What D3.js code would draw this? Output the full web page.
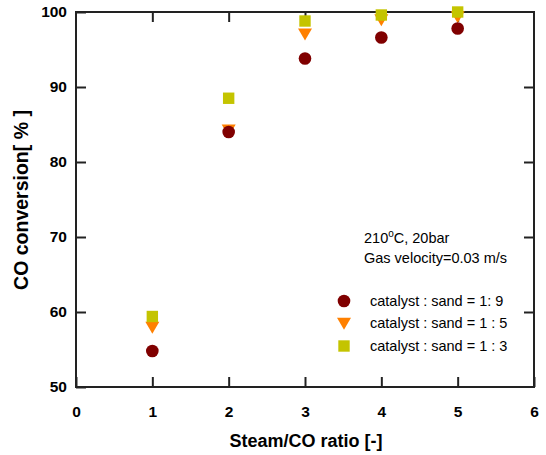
<!DOCTYPE html>
<html>
<head>
<meta charset="utf-8">
<script src="https://cdn.jsdelivr.net/npm/d3@7"></script>
<style>
	body { margin: 0; background: #fff; }
	text { font-family: "Liberation Sans", Arial, sans-serif; fill: #000; }
	.axisLabels { font-size: 15.5px; font-weight: bold; }
	.title { font-size: 18px; font-weight: bold; }
	.note { font-size: 14.5px; }
</style>
</head>
<body>
<div id="chart"></div>
<script>
// values
var ratios = [1, 2, 3, 4, 5];
var conv19 = [54.8, 84.0, 93.8, 96.6, 97.8];
var conv15 = [58.0, 84.3, 97.1, 99.0, 99.4];
var conv13 = [59.4, 88.5, 98.8, 99.6, 100.0];
var xTicks = [0, 1, 2, 3, 4, 5, 6];
var yTicks = [50, 60, 70, 80, 90, 100];
var seriesNames = ["catalyst : sand = 1: 9", "catalyst : sand = 1 : 5", "catalyst : sand = 1 : 3"];

var margin = { top: 12, right: 12, bottom: 68, left: 76 };
var width = 546 - margin.left - margin.right;
var height = 455 - margin.top - margin.bottom;

var x = d3.scaleLinear().domain([0, 6]).range([0, width]);
var y = d3.scaleLinear().domain([50, 100]).range([height, 0]);

var svg = d3.select("#chart").append("svg")
	.attr("width", 546)
	.attr("height", 455)
  .append("g")
	.attr("transform", "translate(" + margin.left + "," + margin.top + ")");

var tickLen = 10;

// frame
svg.append("rect")
	.attr("width", width)
	.attr("height", height)
	.attr("fill", "none")
	.attr("stroke", "#222")
	.attr("stroke-width", 2);

// axes, ticks pointing inward
svg.append("g")
	.attr("class", "xaxis")
	.attr("transform", "translate(0," + height + ")")
	.call(d3.axisBottom(x).tickValues(xTicks).tickSize(-tickLen).tickPadding(19).tickFormat(d3.format("d")));

svg.append("g")
	.attr("class", "xaxis2")
	.call(d3.axisTop(x).tickValues(xTicks.slice(1, 6)).tickSize(-tickLen).tickFormat(""));

svg.append("g")
	.attr("class", "yaxis")
	.call(d3.axisLeft(y).tickValues(yTicks).tickSize(-tickLen).tickPadding(9).tickFormat(d3.format("d")));

svg.append("g")
	.attr("class", "yaxis2")
	.attr("transform", "translate(" + width + ",0)")
	.call(d3.axisRight(y).tickValues(yTicks.slice(1, 5)).tickSize(-tickLen).tickFormat(""));

svg.selectAll(".domain").remove();
svg.selectAll(".tick line").attr("stroke", "#222").attr("stroke-width", 2);
svg.selectAll(".xaxis text, .yaxis text")
	.attr("class", "axisLabels")
	.style("font-family", "Liberation Sans, Arial, sans-serif");

// data points
var sym19 = d3.symbol().type(d3.symbolCircle).size(125);
var sym13 = d3.symbol().type(d3.symbolSquare).size(130);
var tri = function(s) {
	return "M" + (-s) + "," + (-s * 0.75) + "L" + s + "," + (-s * 0.75) + "L0," + (s * 0.95) + "Z";
};

svg.selectAll(".p15")
	.data(ratios)
	.enter().append("path")
	.attr("transform", function(d, i) { return "translate(" + x(d) + "," + y(conv15[i]) + ")"; })
	.attr("d", tri(7))
	.attr("fill", "#ff8000");

svg.selectAll(".p13")
	.data(ratios)
	.enter().append("path")
	.attr("transform", function(d, i) { return "translate(" + x(d) + "," + y(conv13[i]) + ")"; })
	.attr("d", sym13)
	.attr("fill", "#c4c400");

svg.selectAll(".p19")
	.data(ratios)
	.enter().append("path")
	.attr("transform", function(d, i) { return "translate(" + x(d) + "," + y(conv19[i]) + ")"; })
	.attr("d", sym19)
	.attr("fill", "#800000");

// conditions note
var note = svg.append("text")
	.attr("class", "note")
	.attr("x", 288)
	.attr("y", 231);
note.append("tspan").text("210");
note.append("tspan").attr("dy", -6).style("font-size", "10px").text("o");
note.append("tspan").attr("dy", 6).text("C, 20bar");

svg.append("text")
	.attr("class", "note")
	.attr("x", 288)
	.attr("y", 251)
	.text("Gas velocity=0.03 m/s");

// legend
var legY = [289, 311, 334];
var legShapes = [sym19, tri(7), sym13];
var legColors = ["#800000", "#ff8000", "#c4c400"];
seriesNames.forEach(function(name, i) {
	svg.append("path")
		.attr("transform", "translate(268," + legY[i] + ")")
		.attr("d", legShapes[i])
		.attr("fill", legColors[i]);
	svg.append("text")
		.attr("class", "note")
		.attr("x", 294)
		.attr("y", legY[i] + 5)
		.text(name);
});

// axis titles
svg.append("text")
	.attr("class", "title")
	.attr("x", width / 2 + 1)
	.attr("y", height + 60)
	.style("text-anchor", "middle")
	.text("Steam/CO ratio [-]");

svg.append("text")
	.attr("class", "title")
	.attr("transform", "rotate(-90)")
	.attr("x", -188)
	.attr("y", -48)
	.style("text-anchor", "middle")
	.style("font-size", "19.5px")
	.text("CO conversion[ % ]");
</script>
</body>
</html>
